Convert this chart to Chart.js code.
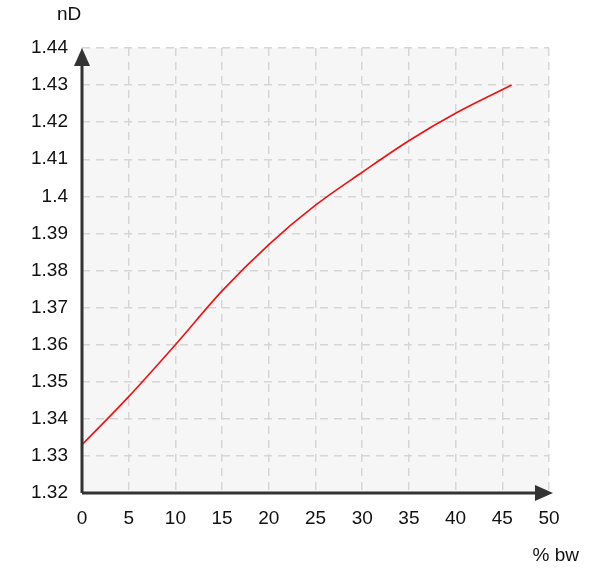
<!DOCTYPE html>
<html><head><script src="https://cdn.jsdelivr.net/npm/chart.js@4"></script>
<style>html,body{margin:0;background:#fff}#w{width:601px;height:574px}</style></head>
<body><div id="w"><canvas id="c"></canvas></div>
<script>
const xValues=[0,5,10,15,20,25,30,35,40,46];
const yValues=[1.333,1.346,1.360,1.3745,1.387,1.3976,1.4065,1.415,1.4224,1.430];
const xTicks=[0,5,10,15,20,25,30,35,40,45,50];
const yTicks=[1.32,1.33,1.34,1.35,1.36,1.37,1.38,1.39,1.4,1.41,1.42,1.43,1.44];
const font={family:'Liberation Sans, Arial',size:19};
const deco={id:'deco',
beforeDraw(ch){const a=ch.chartArea,c=ch.ctx;c.save();c.fillStyle='#f6f6f6';c.fillRect(a.left,a.top,a.right-a.left,a.bottom-a.top);c.restore();},
afterDraw(ch){const a=ch.chartArea,c=ch.ctx;c.save();c.strokeStyle='#333';c.fillStyle='#333';c.lineWidth=3;
c.beginPath();c.moveTo(a.left,a.bottom);c.lineTo(a.left,a.top+14);c.moveTo(a.left,a.bottom);c.lineTo(a.right-12,a.bottom);c.stroke();
c.beginPath();c.moveTo(a.left,a.top);c.lineTo(a.left-8,a.top+18);c.lineTo(a.left+8,a.top+18);c.closePath();c.fill();
c.beginPath();c.moveTo(a.right+4,a.bottom);c.lineTo(a.right-14,a.bottom-8);c.lineTo(a.right-14,a.bottom+8);c.closePath();c.fill();
c.font='19px Liberation Sans, Arial';c.fillStyle='#111';c.textAlign='left';c.textBaseline='middle';
c.fillText('nD',57,15);c.textAlign='right';c.fillText('% bw',579,556);c.restore();}};
new Chart(document.getElementById('c'),{type:'line',
data:{datasets:[{data:xValues.map((x,i)=>({x,y:yValues[i]})),borderColor:'#ee1111',borderWidth:1.6,pointRadius:0,cubicInterpolationMode:'monotone',fill:false}]},
options:{responsive:true,maintainAspectRatio:false,animation:false,
layout:{padding:{top:48,right:52,left:0,bottom:0}},
plugins:{legend:{display:false},tooltip:{enabled:false}},
scales:{
x:{type:'linear',min:0,max:50,afterFit(s){s.height=81;},afterBuildTicks(s){s.ticks=xTicks.map(v=>({value:v}));},
grid:{color:'#d6d6d6',lineWidth:1.5,drawTicks:false},border:{display:false,dash:[8,6]},
ticks:{color:'#111',font,padding:14}},
y:{type:'linear',min:1.32,max:1.44,afterFit(s){s.width=82;},afterBuildTicks(s){s.ticks=yTicks.map(v=>({value:v}));},
grid:{color:'#d6d6d6',lineWidth:1.5,drawTicks:false},border:{display:false,dash:[8,6]},
ticks:{color:'#111',font,padding:14,callback:v=>String(+v.toFixed(2))}}}},
plugins:[deco]});
</script></body></html>
